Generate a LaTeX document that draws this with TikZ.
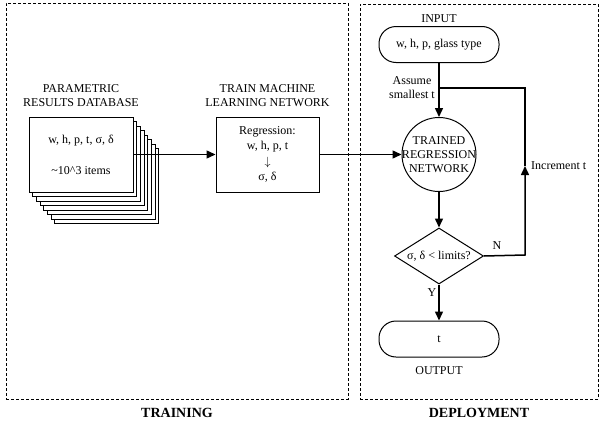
\documentclass[tikz,border=0pt]{standalone}
\usepackage{fontspec}
\setmainfont{Liberation Serif}
\usetikzlibrary{positioning,shapes.geometric,arrows.meta}

\begin{document}
\begin{tikzpicture}[x=1pt,y=-1pt,
  every node/.style={font=\fontsize{12}{14}\selectfont},
  panel/.style={draw,dash pattern=on 3pt off 2pt,line width=.9pt},
  paneltitle/.style={font=\fontsize{14}{16}\selectfont\bfseries,inner sep=0},
  heading/.style={inner sep=0,align=center},
  sheet/.style={draw,fill=white,line width=1pt,minimum width=104pt,minimum height=75pt},
  procbox/.style={draw,line width=1pt,minimum width=103pt,minimum height=75pt,align=center,
    font=\fontsize{12}{15.3}\selectfont},
  term/.style={draw,rounded corners=17pt,line width=1pt,minimum width=120pt,minimum height=36pt},
  nnet/.style={draw,circle,line width=1pt,minimum size=74pt,inner sep=0},
  check/.style={draw,diamond,line width=1pt,minimum width=89pt,minimum height=56pt,inner sep=0},
  txt/.style={inner sep=0,align=center},
  line/.style={line width=1.5pt},
  arr/.style={line,-{Triangle[length=9pt,width=8pt]}}]

  \useasboundingbox (0,0) rectangle (600,423);

  % Panels

  \node[panel,minimum width=342pt,minimum height=396pt] (train) at (177,201) {};
  \node[panel,minimum width=238pt,minimum height=395pt] (deploy) at (479,201.5) {};
  \node[paneltitle,below=9pt of train] (train_t) {TRAINING};
  \node[paneltitle,below=9pt of deploy] (deploy_t) {DEPLOYMENT};

  % Training nodes

  \foreach \i in {7,...,1}
    \node[sheet] (sheet\i) at (81+3.7*\i,154.5+4.5*\i) {};
  \node[sheet,align=center] (db) at (81,154.5) {w, h, p, t, σ, δ\\[17pt]\textasciitilde10\textasciicircum3 items};
  \node[heading,above=10pt of db] (db_t) {PARAMETRIC\\RESULTS DATABASE};

  \node[procbox,right=82pt of db] (reg) {Regression:\\w, h, p, t\\$\downarrow$\\σ, δ};
  \node[heading,above=10pt of reg] (reg_t) {TRAIN MACHINE\\LEARNING NETWORK};

  % Deployment nodes

  \node[nnet,label={[txt]center:TRAINED\\REGRESSION\\NETWORK}] (net) at (439,154.5) {};
  \node[term,above=54pt of net] (in_term) {w, h, p, glass type};
  \node[txt,above=3pt of in_term] (in_t) {INPUT};
  \node[check,below=35.5pt of net,label={[txt]center:σ, δ < limits?}] (chk) {};
  \node[term,below=36pt of chk] (out_term) {t};
  \node[txt,below=9pt of out_term] (out_t) {OUTPUT};

  \coordinate (join) at (439,88);
  \coordinate (loop_tr) at (525,88);
  \coordinate (loop_br) at (525,255);
  \coordinate (inc) at (525,166);

  \node[txt] (assume) at (412,87.5) {Assume\\smallest t};
  \node[txt,anchor=west] (inc_t) at (531,166) {Increment t};
  \node[txt] (no_t) at (497,246) {N};
  \node[txt] (yes_t) at (432,293) {Y};

  % Edges

  \draw[arr] (db.east) -- (reg.west);
  \draw[arr] (reg.east) -- (net.west);
  \draw[arr] (in_term.south) -- (net.north);
  \draw[arr] (net.south) -- (chk.north);
  \draw[arr] (chk.south) -- (out_term.north);
  \draw[arr] (chk.east) -- (loop_br) -- (inc);
  \draw[line] (inc) -- (loop_tr) -- (join);

\end{tikzpicture}
\end{document}
